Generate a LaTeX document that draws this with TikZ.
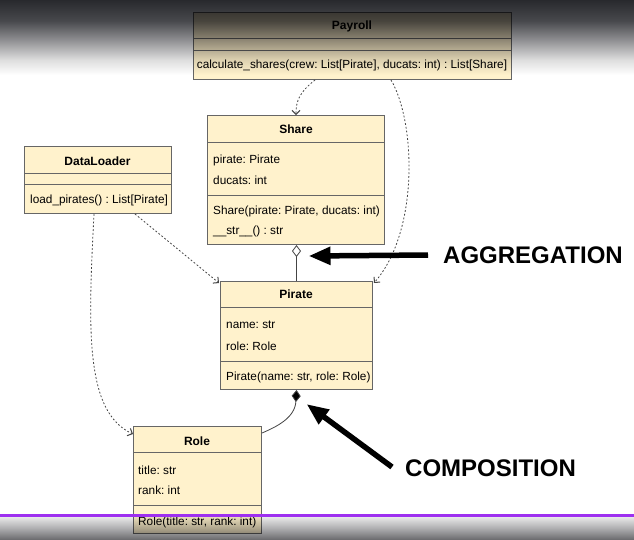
\documentclass[tikz,border=0pt]{standalone}
\usepackage{fontspec}
\setmainfont{Liberation Sans}
\frenchspacing
\usetikzlibrary{arrows.meta,calc}
\definecolor{boxfill}{HTML}{FFF2CC}
\definecolor{boxline}{HTML}{666666}
\definecolor{depcol}{HTML}{444444}
\definecolor{purpleline}{RGB}{158,48,240}
\definecolor{cA}{RGB}{40,41,45}
\definecolor{cB}{RGB}{72,73,77}
\definecolor{cC}{RGB}{145,145,148}
\definecolor{cD}{RGB}{222,222,222}
\definecolor{bA}{RGB}{232,232,232}
\definecolor{bB}{RGB}{175,175,177}
\definecolor{bC}{RGB}{110,110,113}
\pgfdeclareverticalshading{topfade}{100bp}{color(0bp)=(white); color(25bp)=(white); color(35bp)=(cD); color(48bp)=(cC); color(61bp)=(cB); color(75bp)=(cA); color(100bp)=(cA)}
\pgfdeclareverticalshading{botfade}{100bp}{color(0bp)=(bC); color(25bp)=(bC); color(50bp)=(bB); color(75bp)=(bA); color(100bp)=(bA)}
\begin{document}
\begin{tikzpicture}[x=1pt,y=-1pt,
  classbox/.style={draw=boxline, fill=boxfill, line width=1pt, rectangle, inner sep=0pt, anchor=north west},
  divider/.style={draw=boxline, line width=1pt},
  classtitle/.style={font=\fontsize{12}{14}\selectfont\bfseries, inner sep=0pt, anchor=base},
  member/.style={font=\fontsize{11.8}{14}\selectfont, inner sep=0pt, anchor=base west},
  dep/.style={draw=depcol, line width=0.8pt, dash pattern=on 1.8pt off 2pt, -{Straight Barb[length=4pt,width=8pt,line width=1pt]}},
  assoc/.style={draw=depcol, line width=0.8pt},
  bigarrow/.style={line width=5.5pt, -{Triangle[length=22pt,width=17pt]}},
  callout/.style={font=\fontsize{24}{28}\selectfont\bfseries, inner sep=0pt, anchor=west}]
\useasboundingbox (0,0) rectangle (634,539);
\fill[white] (0,0) rectangle (634,539);

% Payroll
\node[classbox, minimum width=318pt, minimum height=67pt] (payroll) at (193,12) {};
\draw[divider] (193,38) -- (511,38);
\draw[divider] (193,50) -- (511,50);
\node[classtitle] at (352,29.5) {Payroll};
\node[font=\fontsize{11.8}{14}\selectfont, inner sep=0pt, anchor=base] at (352,68.5) {calculate\_shares(crew: List[Pirate], ducats: int) : List[Share]};

% Share
\node[classbox, minimum width=177pt, minimum height=129pt] (share) at (207,115) {};
\draw[divider] (207,142) -- (384,142);
\draw[divider] (207,195) -- (384,195);
\node[classtitle] at (296,133.5) {Share};
\node[member] at (213,163.5) {pirate: Pirate};
\node[member] at (213,184.5) {ducats: int};
\node[member] at (213,214) {Share(pirate: Pirate, ducats: int)};
\node[member] at (213,234.5) {\_\_str\_\_() : str};

% DataLoader
\node[classbox, minimum width=147pt, minimum height=67pt] (loader) at (24,146) {};
\draw[divider] (24,173) -- (171,173);
\draw[divider] (24,184) -- (171,184);
\node[classtitle] at (97.5,165.5) {DataLoader};
\node[member] at (30,203.5) {load\_pirates() : List[Pirate]};

% Pirate
\node[classbox, minimum width=152pt, minimum height=108pt] (pirate) at (220,281) {};
\draw[divider] (220,307) -- (372,307);
\draw[divider] (220,361) -- (372,361);
\node[classtitle] at (296,298.5) {Pirate};
\node[member] at (226,328.5) {name: str};
\node[member] at (226,350) {role: Role};
\node[member] at (226,380.5) {Pirate(name: str, role: Role)};

% Role
\node[classbox, minimum width=128pt, minimum height=107pt] (role) at (133,426) {};
\draw[divider] (133,452) -- (261,452);
\draw[divider] (133,505) -- (261,505);
\node[classtitle] at (197,445.5) {Role};
\node[member] at (138,474.5) {title: str};
\node[member] at (138,494.5) {rank: int};
\node[member] at (138,525) {Role(title: str, rank: int)};

% dependencies
\draw[dep] ($(payroll.south west)+(122,0)$) .. controls (300,92) and (296,100) .. (share.north);
\draw[dep] ($(payroll.south east)+(-121,0)$) .. controls (415,120) and (420,230) .. ($(pirate.north east)+(1,2)$);
\draw[dep] ($(loader.south west)+(111,0)$) -- ($(pirate.north west)+(-1,2)$);
\draw[dep] ($(loader.south west)+(70,0)$) .. controls (88,330) and (85,412) .. ($(role.north west)+(0,8)$);

% aggregation & composition
\draw[assoc, -{Diamond[open, fill=white, length=12pt, width=9pt]}] (pirate.north) -- (pirate.north |- share.south);
\draw[assoc, -{Diamond[fill=black, length=12pt, width=9pt]}] ($(role.north east)+(0,7)$) .. controls (276,427) and (295,418) .. (pirate.south);

% callouts
\node[callout] (agg) at (443,255) {AGGREGATION};
\node[callout] (comp) at (405,468) {COMPOSITION};
\draw[bigarrow] ($(agg.west)+(-15,0)$) -- ($(share.south)+(12.5,11)$);
\draw[bigarrow] ($(comp.west)+(-13,-1)$) -- ($(pirate.south)+(10,14)$);

% screen overlays
\shade[shading=topfade, blend mode=multiply] (0,0) rectangle (634,75);
\shade[shading=botfade, blend mode=multiply] (0,517) rectangle (634,539);
\fill[purpleline] (0,513.5) rectangle (634,516.5);
\end{tikzpicture}
\end{document}
